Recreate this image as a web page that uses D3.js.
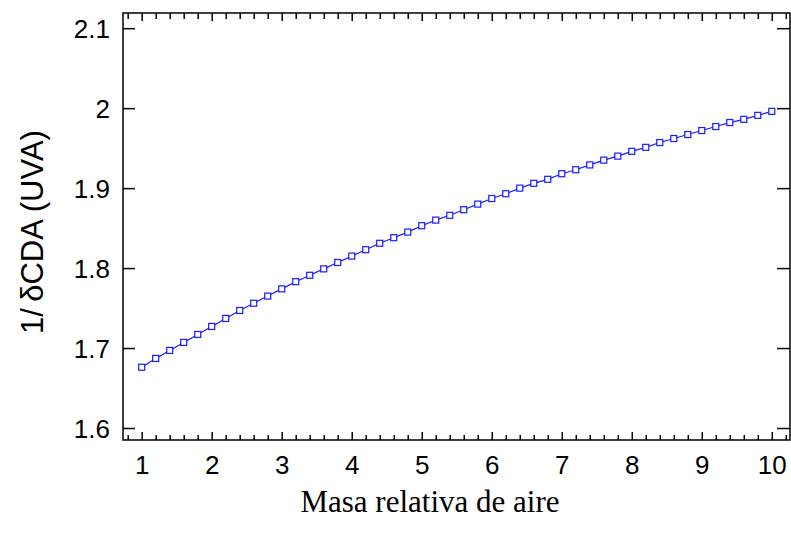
<!DOCTYPE html>
<html>
<head>
<meta charset="utf-8">
<script src="https://cdn.jsdelivr.net/npm/d3@7"></script>
<style>
  html, body { margin: 0; padding: 0; background: #fff; }
  svg { display: block; }
</style>
</head>
<body>
<svg id="chart" width="791" height="534"></svg>
<script>
const masaAire = [1.0,1.2,1.4,1.6,1.8,2.0,2.2,2.4,2.6,2.8,3.0,3.2,3.4,3.6,3.8,4.0,4.2,4.4,4.6,4.8,
  5.0,5.2,5.4,5.6,5.8,6.0,6.2,6.4,6.6,6.8,7.0,7.2,7.4,7.6,7.8,8.0,8.2,8.4,8.6,8.8,9.0,9.2,9.4,9.6,9.8,10.0];
const invCDA = [1.676,1.687,1.697,1.707,1.717,1.727,1.737,1.747,1.756,1.765,1.774,1.783,1.791,1.799,1.807,
  1.815,1.823,1.831,1.838,1.845,1.853,1.860,1.866,1.873,1.880,1.887,1.893,1.900,1.906,1.911,1.918,1.923,
  1.929,1.935,1.940,1.946,1.951,1.957,1.962,1.967,1.972,1.977,1.982,1.986,1.991,1.996];
const xMajorTicks = [1,2,3,4,5,6,7,8,9,10];
const xMinorTicks = [0.8,1.2,1.4,1.6,1.8,2.2,2.4,2.6,2.8,3.2,3.4,3.6,3.8,4.2,4.4,4.6,4.8,5.2,5.4,5.6,5.8,
  6.2,6.4,6.6,6.8,7.2,7.4,7.6,7.8,8.2,8.4,8.6,8.8,9.2,9.4,9.6,9.8,10.2];
const yTicks = [1.6,1.7,1.8,1.9,2.0,2.1];
const xTitle = "Masa relativa de aire";
const yTitle = "1/\u2009\u03B4CDA (UVA)";

const L = 123, R = 790, T = 13, B = 440;
const svg = d3.select("#chart");
const x = d3.scaleLinear().domain([0.733, 10.26]).range([L, R]);
const y = d3.scaleLinear().domain([1.585, 2.119]).range([B, T]);

const tickFont = "Liberation Sans, Arial, sans-serif";

function styleAxis(g) {
  g.select(".domain").remove();
  g.selectAll(".tick line").attr("stroke", "#000").attr("stroke-width", 1.5);
  g.selectAll(".tick text").attr("font-family", tickFont).attr("font-size", 26).attr("fill", "#000");
}

const minorIn = xMinorTicks.filter(v => v >= 0.74 && v <= 10.25);

// bottom axis
svg.append("g").attr("transform", `translate(0,${B})`)
  .call(d3.axisBottom(x).tickValues(xMajorTicks).tickSize(-8).tickFormat(d3.format("d")))
  .call(styleAxis)
  .call(g => g.selectAll(".tick text").attr("dy", "0").attr("y", 34));
svg.append("g").attr("transform", `translate(0,${B})`)
  .call(d3.axisBottom(x).tickValues(minorIn).tickSize(-5).tickFormat(""))
  .call(styleAxis);
// top axis
svg.append("g").attr("transform", `translate(0,${T})`)
  .call(d3.axisTop(x).tickValues(xMajorTicks).tickSize(-8).tickFormat(""))
  .call(styleAxis);
svg.append("g").attr("transform", `translate(0,${T})`)
  .call(d3.axisTop(x).tickValues(minorIn).tickSize(-6).tickFormat(""))
  .call(styleAxis);
// left axis
svg.append("g").attr("transform", `translate(${L},0)`)
  .call(d3.axisLeft(y).tickValues(yTicks).tickSize(-12).tickPadding(13).tickFormat(d => d === 2 ? "2" : d3.format(".1f")(d)))
  .call(styleAxis)
  .call(g => g.selectAll(".tick text").attr("dy", "0.36em"));
// right axis
svg.append("g").attr("transform", `translate(${R},0)`)
  .call(d3.axisRight(y).tickValues(yTicks).tickSize(-13).tickFormat(""))
  .call(styleAxis);

// frame
svg.append("rect").attr("x", L).attr("y", T).attr("width", R - L).attr("height", B - T)
  .attr("fill", "none").attr("stroke", "#000").attr("stroke-width", 1.5);

// line
const pts = masaAire.map((m, i) => [m, invCDA[i]]);
svg.append("path").datum(pts)
  .attr("fill", "none").attr("stroke", "#1a1aff").attr("stroke-width", 1.2)
  .attr("d", d3.line().x(d => x(d[0])).y(d => y(d[1])));
svg.append("g").selectAll("rect").data(pts).join("rect")
  .attr("x", d => x(d[0]) - 3).attr("y", d => y(d[1]) - 3)
  .attr("width", 6).attr("height", 6)
  .attr("fill", "#fff").attr("stroke", "#1a1aff").attr("stroke-width", 1.2);

// titles
svg.append("text").attr("x", 430).attr("y", 512).attr("text-anchor", "middle")
  .attr("font-family", "Liberation Serif, Times New Roman, serif").attr("font-size", 31)
  .attr("fill", "#000").text(xTitle);
svg.append("text").attr("transform", "translate(43,232) rotate(-90)").attr("text-anchor", "middle")
  .attr("font-family", tickFont).attr("font-size", 31).attr("fill", "#000").text(yTitle);
</script>
</body>
</html>
